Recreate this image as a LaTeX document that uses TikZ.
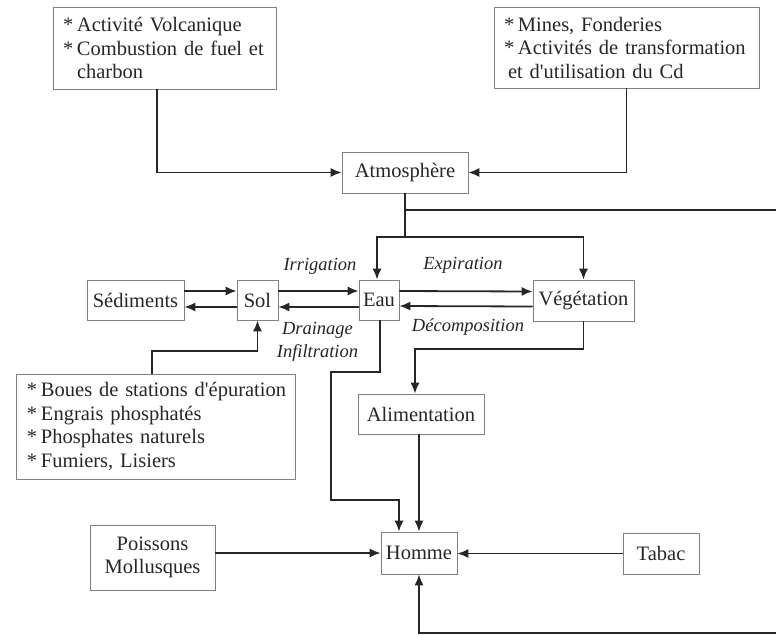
\documentclass[tikz,border=0pt]{standalone}
\usepackage{fontspec}
\setmainfont{Liberation Serif}[Ligatures=TeXOff]
\usetikzlibrary{arrows.meta}
\newcommand\starit{\makebox[14pt][l]{*}}
\begin{document}
\begin{tikzpicture}[x=1pt,y=-1pt,
  every node/.style={font=\fontsize{20.5}{23.5}\selectfont,text=black!85},
  box/.style={draw=black!50,line width=0.6pt,inner sep=0pt,align=center},
  listbox/.style={draw=black!50,line width=0.6pt,inner xsep=10pt,inner ysep=0pt,align=left},
  arr/.style={draw=black!85,line width=1.8pt,-{Latex[length=11pt,width=9pt]}},
  wire/.style={draw=black!85,line width=1.8pt},
  lbl/.style={font=\fontsize{18.5}{23}\selectfont\itshape,inner sep=0pt,align=center}]
\useasboundingbox (0,0) rectangle (776,635);

% boxes
\node[listbox,text width=203pt,minimum height=82pt] (src1) at (164.5,48)
  {\mbox{\starit Activité Volcanique}\\\mbox{\starit Combustion de fuel et}\\\hspace*{14pt}charbon};
\node[listbox,text width=245pt,minimum height=81pt] (src2) at (626.5,47.5)
  {\mbox{\starit Mines, Fonderies}\\\mbox{\starit Activités de transformation}\\\mbox{\hspace*{4pt}et d'utilisation du Cd}};
\node[box,minimum width=126pt,minimum height=41pt] (atm) at (405,172.5) {Atmosphère};
\node[box,minimum width=97pt,minimum height=40pt] (sed) at (135.5,300) {Sédiments};
\node[box,minimum width=41pt,minimum height=40pt] (sol) at (257.5,300) {Sol};
\node[box,minimum width=40pt,minimum height=40pt] (eau) at (379,300) {Eau};
\node[box,minimum width=101pt,minimum height=41pt] (veg) at (583.5,300.5) {Végétation};
\node[listbox,inner xsep=11pt,text width=257pt,minimum height=105pt] (boues) at (155.5,426.5)
  {\mbox{\starit Boues de stations d'épuration}\\\mbox{\starit Engrais phosphatés}\\\mbox{\starit Phosphates naturels}\\\mbox{\starit Fumiers, Lisiers}};
\node[box,minimum width=126pt,minimum height=40pt] (alim) at (421,414) {Alimentation};
\node[box,minimum width=76pt,minimum height=42pt] (homme) at (419,553) {Homme};
\node[box,minimum width=125pt,minimum height=65pt] (pois) at (152.5,557.5) {Poissons\\Mollusques};
\node[box,minimum width=76pt,minimum height=41pt] (tabac) at (661,553.5) {Tabac};

% labels
\node[lbl] (irr) at (320,266) {Irrigation};
\node[lbl] (drain) at (317.5,341.5) {Drainage\\Infiltration};
\node[lbl] (expi) at (463,265) {Expiration};
\node[lbl] (decomp) at (468,327) {Décomposition};

% free ends at the right border
\coordinate (rtop) at (776,210);
\coordinate (rbot) at (776,633);

% connectors
\draw[arr] ([xshift=-7.5pt]src1.south) |- (atm.west);
\draw[arr] (src2.south) |- (atm.east);
\draw[wire] (atm.south) -- (405,237) coordinate (j2);
\draw[wire] (atm.south |- rtop) -- (rtop);
\draw[arr] (j2) -| ([xshift=-2pt]eau.north);
\draw[arr] (j2) -| (veg.north);

\draw[arr] ([yshift=9pt]sed.east) -- ([yshift=9pt]sol.west);
\draw[arr] ([yshift=-7pt]sol.west) -- ([yshift=-7pt]sed.east);
\draw[arr] ([yshift=9pt]sol.east) -- ([yshift=9pt]eau.west);
\draw[arr] ([yshift=-7pt]eau.west) -- ([yshift=-7pt]sol.east);
\draw[arr] ([yshift=9pt]eau.east) -- ([yshift=9pt]veg.west);
\draw[arr] ([yshift=-6pt]veg.west) -- ([yshift=-6pt]eau.east);

\draw[arr] ([xshift=-3.5pt]boues.north) -- ++(0,-23) -| (sol.south);
\draw[arr] ([xshift=1pt]eau.south) -- ++(0,52) -| (331,500) -| ([xshift=-20pt]homme.north);
\draw[arr] (veg.south) -- ++(0,28) -| ([xshift=-6pt]alim.north);
\draw[arr] (alim.south -| homme.north) -- (homme.north);
\draw[arr] (pois.east |- homme.west) -- (homme.west);
\draw[arr] (tabac.west) -- (tabac.west -| homme.east);
\draw[arr] (rbot) -| (homme.south);
\end{tikzpicture}
\end{document}
